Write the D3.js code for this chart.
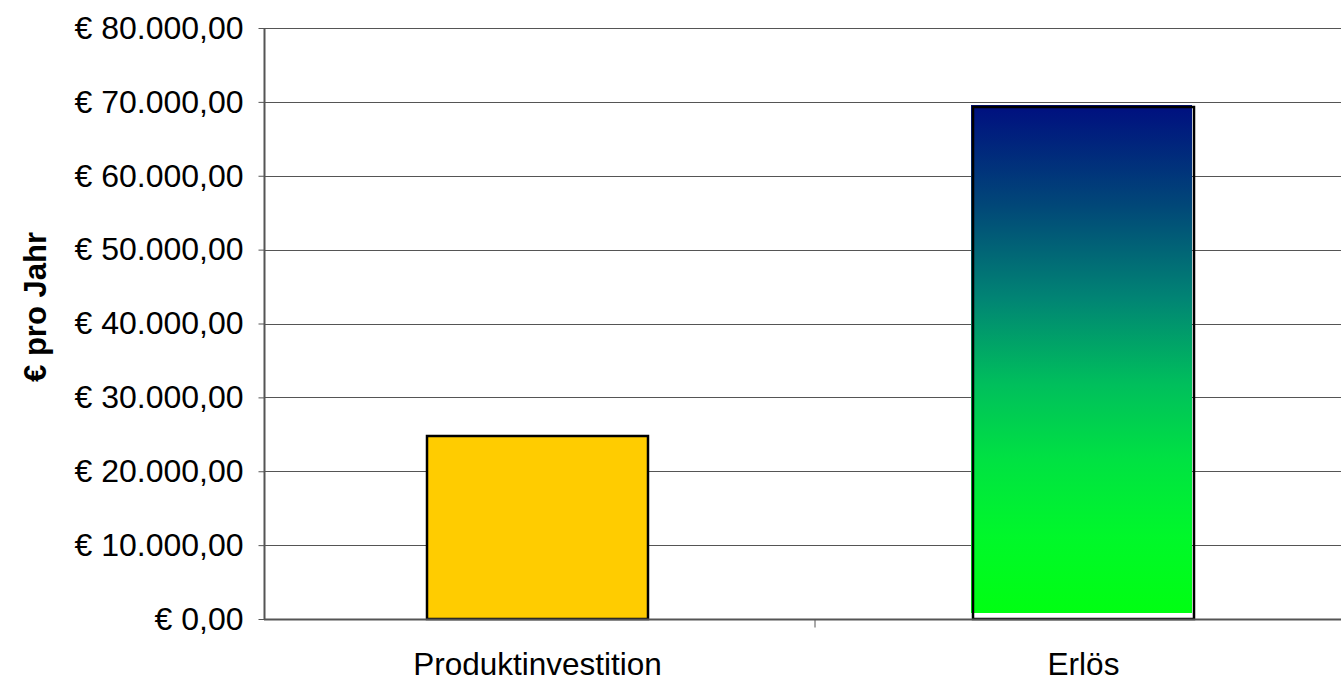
<!DOCTYPE html>
<html><head><meta charset="utf-8">
<script src="https://cdn.jsdelivr.net/npm/d3@7"></script>
<style>
body{margin:0;background:#fff;}
svg{display:block;font-family:"Liberation Sans",Arial,sans-serif;}
</style></head>
<body>
<svg id="c" width="1341" height="680"></svg>
<script>
const categories = ["Produktinvestition", "Erlös"];
const values = [24800, 69300];
const yTicks = [0, 10000, 20000, 30000, 40000, 50000, 60000, 70000, 80000];
const yTitle = "€ pro Jahr";

const svg = d3.select("#c");
const m = {left: 264, top: 28, bottom: 619, right: 1366};
const x = d3.scaleBand().domain(categories).range([m.left, m.right]).paddingInner(0).paddingOuter(0);
const y = d3.scaleLinear().domain([0, 80000]).range([m.bottom, m.top]);
const fmt = v => "€ " + d3.format(",.2f")(v).replace(/,/g, "#").replace(/\./g, ",").replace(/#/g, ".");

const defs = svg.append("defs");
const g = defs.append("linearGradient").attr("id", "grad").attr("x1", 0).attr("y1", 0).attr("x2", 0).attr("y2", 1);
[["0%", "#000f80"], ["20%", "#014878"], ["38%", "#018474"], ["55%", "#00bf5c"], ["70%", "#00e242"], ["85%", "#00f82a"], ["100%", "#00ff12"]]
  .forEach(s => g.append("stop").attr("offset", s[0]).attr("stop-color", s[1]));

// gridlines
svg.append("g").selectAll("line").data(yTicks.filter(d => d > 0)).join("line")
  .attr("x1", m.left).attr("x2", 1341)
  .attr("y1", d => Math.round(y(d)) + 0.5).attr("y2", d => Math.round(y(d)) + 0.5)
  .attr("stroke", "#555").attr("stroke-width", 1);

// bars
const bw = x.bandwidth() * 0.40;
categories.forEach((c, i) => {
  const cx = x(c) + x.bandwidth() / 2 - (i === 1 ? 7 : 2);
  const x0 = Math.round(cx - bw / 2), x1 = Math.round(cx + bw / 2);
  const yt = Math.round(y(values[i])), yb = Math.round(y(0));
  if (i === 0) {
    svg.append("rect").attr("x", x0).attr("y", yt).attr("width", x1 - x0).attr("height", yb - yt)
      .attr("fill", "#ffcc00").attr("stroke", "#000").attr("stroke-width", 2.5);
  } else {
    svg.append("rect").attr("x", x0 - 2).attr("y", yt - 2).attr("width", x1 - x0).attr("height", yb - yt - 4)
      .attr("fill", "url(#grad)");
    svg.append("rect").attr("x", x0).attr("y", yt).attr("width", x1 - x0).attr("height", yb - yt)
      .attr("fill", "none").attr("stroke", "#000").attr("stroke-width", 2.5);
  }
});

// y axis
const ya = svg.append("g").attr("transform", `translate(${m.left + 0.5},0)`)
  .call(d3.axisLeft(y).tickValues(yTicks).tickFormat(fmt).tickSize(6).tickPadding(15));
ya.select(".domain").attr("stroke", "#555").attr("stroke-width", 2).attr("d", `M0,${m.top}V${m.bottom}`);
ya.selectAll(".tick line").attr("stroke", "#555");
ya.selectAll("text").attr("font-size", 32).attr("fill", "#000").attr("font-family", "Liberation Sans, Arial, sans-serif");

// x axis
const xa = svg.append("g").attr("transform", `translate(0,${m.bottom + 0.5})`);
xa.append("line").attr("x1", m.left).attr("x2", 1341).attr("stroke", "#555").attr("stroke-width", 2);
xa.selectAll("line.t").data([m.left + x.bandwidth()]).join("line").attr("class", "t")
  .attr("x1", d => d).attr("x2", d => d).attr("y1", 0).attr("y2", 8).attr("stroke", "#555");
xa.selectAll("text").data(categories).join("text")
  .attr("x", d => x(d) + x.bandwidth() / 2 - (d === "Erlös" ? 7 : 2))
  .attr("y", 55).attr("text-anchor", "middle").attr("font-size", 31.5).text(d => d);

// y title
svg.append("text").attr("transform", "translate(46,307) rotate(-90)")
  .attr("text-anchor", "middle").attr("font-size", 31).attr("font-weight", "bold").text(yTitle);
</script>
</body></html>
